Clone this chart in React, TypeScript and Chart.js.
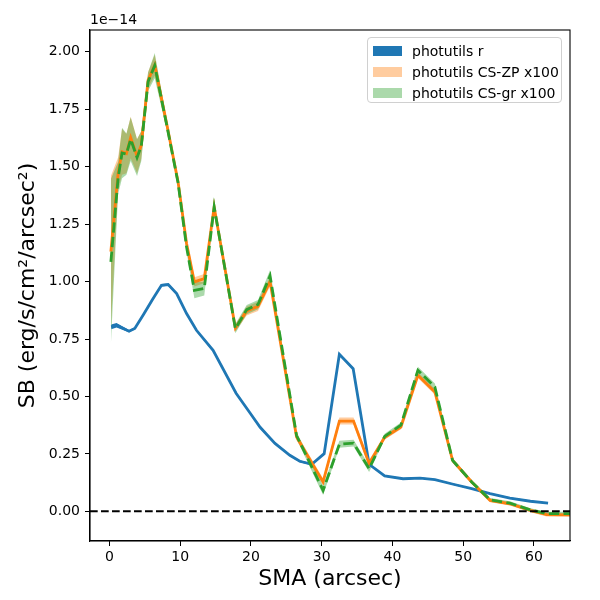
import React, { useEffect, useRef } from 'react';
import Chart from 'chart.js/auto';

// SB values are in units of 1e-14 erg/s/cm^2/arcsec^2
const smaR = [0.25, 1.0, 2.77, 3.58, 4.75, 6.17, 7.35, 8.3, 9.5, 10.9, 12.3, 14.65, 17.9, 19.9, 21.3, 23.4, 25.5, 26.9, 28.6, 30.35, 32.5, 34.45, 36.7, 38.9, 41.5, 43.9, 46.0, 48.6, 51.2, 53.8, 56.6, 59.5, 62.0];
const sbR = [0.803, 0.81, 0.784, 0.796, 0.854, 0.926, 0.984, 0.987, 0.948, 0.861, 0.788, 0.701, 0.514, 0.427, 0.366, 0.296, 0.244, 0.218, 0.205, 0.251, 0.684, 0.621, 0.205, 0.154, 0.142, 0.145, 0.138, 0.118, 0.099, 0.077, 0.058, 0.044, 0.036];
const errR = [0.01, 0.01, 0.005, 0.005, 0.005, 0.005, 0.005, 0.005, 0.005, 0.005, 0.005, 0.005, 0.004, 0.004, 0.004, 0.004, 0.004, 0.004, 0.004, 0.004, 0.004, 0.004, 0.004, 0.003, 0.003, 0.003, 0.003, 0.003, 0.003, 0.003, 0.003, 0.003, 0.003];

const smaCS = [0.2, 1.22, 1.78, 2.4, 3.0, 3.9, 4.5, 5.46, 6.4, 8.2, 9.7, 10.9, 12.0, 13.4, 14.8, 17.8, 19.4, 21.0, 22.7, 26.45, 30.2, 32.5, 34.5, 36.7, 38.9, 41.2, 43.6, 46.0, 48.5, 51.2, 53.8, 56.6, 59.5, 61.8, 65.3];
const sbZP = [1.13, 1.47, 1.565, 1.557, 1.627, 1.546, 1.594, 1.877, 1.942, 1.67, 1.434, 1.166, 0.999, 1.013, 1.325, 0.798, 0.872, 0.892, 1.0, 0.324, 0.128, 0.393, 0.393, 0.208, 0.322, 0.367, 0.592, 0.52, 0.222, 0.128, 0.048, 0.033, 0.004, -0.014, -0.015];
const errZP = [0.33, 0.07, 0.1, 0.085, 0.09, 0.075, 0.06, 0.035, 0.045, 0.02, 0.02, 0.02, 0.02, 0.02, 0.015, 0.015, 0.02, 0.02, 0.02, 0.015, 0.015, 0.015, 0.015, 0.015, 0.01, 0.01, 0.012, 0.012, 0.01, 0.008, 0.008, 0.008, 0.008, 0.008, 0.008];
const sbGR = [1.086, 1.45, 1.56, 1.555, 1.62, 1.54, 1.59, 1.87, 1.94, 1.665, 1.43, 1.15, 0.962, 0.97, 1.325, 0.795, 0.878, 0.9, 1.025, 0.33, 0.091, 0.292, 0.297, 0.186, 0.326, 0.375, 0.614, 0.541, 0.222, 0.128, 0.05, 0.036, 0.006, -0.01, -0.01];
const errGR = [0.36, 0.07, 0.11, 0.09, 0.095, 0.08, 0.065, 0.04, 0.055, 0.02, 0.02, 0.02, 0.035, 0.03, 0.02, 0.02, 0.02, 0.02, 0.025, 0.015, 0.02, 0.015, 0.015, 0.015, 0.012, 0.012, 0.015, 0.015, 0.01, 0.008, 0.008, 0.008, 0.008, 0.008, 0.008];

const xTicks = [0, 10, 20, 30, 40, 50, 60];
const yTicks = [0, 0.25, 0.5, 0.75, 1.0, 1.25, 1.5, 1.75, 2.0];

const labels = ['photutils r', 'photutils CS-ZP x100', 'photutils CS-gr x100'];
const lineColors = ['#1f77b4', '#ff7f0e', '#2ca02c'];
const bandColors = ['rgba(31,119,180,1)', 'rgba(255,127,14,0.4)', 'rgba(44,160,44,0.4)'];

const FONT = "'DejaVu Sans', sans-serif";

const pts = (xs: number[], ys: number[], off: number[] = [], sign = 0) =>
  xs.map((x, i) => ({ x, y: ys[i] + sign * (off[i] || 0) }));

const band = (xs: number[], ys: number[], err: number[], color: string, order: number) => [
  { data: pts(xs, ys, err, 1), borderWidth: 0, pointRadius: 0, fill: false, order },
  { data: pts(xs, ys, err, -1), borderWidth: 0, pointRadius: 0, fill: '-1', backgroundColor: color, order },
];

const line = (xs: number[], ys: number[], color: string, order: number, dash: number[] = []) => ({
  data: pts(xs, ys),
  borderColor: color,
  borderWidth: 2.8,
  borderDash: dash,
  pointRadius: 0,
  fill: false,
  order,
});

const extras = {
  id: 'extras',
  afterDatasetsDraw(chart: any) {
    const { ctx, chartArea, scales } = chart;
    const y0 = scales.y.getPixelForValue(0);
    ctx.save();
    ctx.strokeStyle = '#000';
    ctx.lineWidth = 2;
    ctx.setLineDash([7.7, 3.3]);
    ctx.beginPath();
    ctx.moveTo(chartArea.left, y0);
    ctx.lineTo(chartArea.right, y0);
    ctx.stroke();
    ctx.restore();
  },
  afterDraw(chart: any) {
    const { ctx, chartArea } = chart;
    ctx.save();
    ctx.strokeStyle = '#000';
    ctx.lineWidth = 1.1;
    ctx.strokeRect(chartArea.left, chartArea.top, chartArea.right - chartArea.left, chartArea.bottom - chartArea.top);
    ctx.fillStyle = '#000';
    ctx.font = `14px ${FONT}`;
    ctx.textAlign = 'left';
    ctx.textBaseline = 'bottom';
    ctx.fillText('1e\u221214', chartArea.left, chartArea.top - 3);
    ctx.restore();
  },
};

const App: React.FC = () => {
  const chartRef = useRef<HTMLCanvasElement | null>(null);

  useEffect(() => {
    if (!chartRef.current) return;
    const datasets: any[] = [
      ...band(smaR, sbR, errR, bandColors[0], 9),
      ...band(smaCS, sbZP, errZP, bandColors[1], 8),
      ...band(smaCS, sbGR, errGR, bandColors[2], 7),
      line(smaR, sbR, lineColors[0], 3),
      line(smaCS, sbZP, lineColors[1], 2),
      line(smaCS, sbGR, lineColors[2], 1, [10.3, 4.4]),
    ];

    const myChart = new Chart(chartRef.current, {
      type: 'line',
      data: { datasets },
      plugins: [extras],
      options: {
        animation: false,
        responsive: true,
        maintainAspectRatio: false,
        layout: { padding: { top: 30, right: 30, left: 0, bottom: 0 } },
        plugins: { legend: { display: false }, tooltip: { enabled: false } },
        scales: {
          x: {
            type: 'linear',
            min: -2.75,
            max: 65.1,
            afterBuildTicks: (s: any) => { s.ticks = xTicks.map((value) => ({ value })); },
            afterFit: (s: any) => { s.height = 59; },
            ticks: { color: '#000', font: { family: FONT, size: 14 }, padding: 3, maxRotation: 0 },
            grid: { drawOnChartArea: false, drawTicks: true, tickLength: 5, color: '#000' },
            border: { display: true, color: '#000', width: 1.1 },
            title: { display: true, text: 'SMA (arcsec)', color: '#000', font: { family: FONT, size: 22 }, padding: { top: 0, bottom: 8 } },
          },
          y: {
            type: 'linear',
            min: -0.129,
            max: 2.095,
            afterBuildTicks: (s: any) => { s.ticks = yTicks.map((value) => ({ value })); },
            afterFit: (s: any) => { s.width = 90; },
            ticks: { color: '#000', font: { family: FONT, size: 14 }, padding: 5, callback: (v: any) => Number(v).toFixed(2) },
            grid: { drawOnChartArea: false, drawTicks: true, tickLength: 5, color: '#000' },
            border: { display: true, color: '#000', width: 1.1 },
            title: { display: true, text: 'SB (erg/s/cm\u00b2/arcsec\u00b2)', color: '#000', font: { family: FONT, size: 22 }, padding: { top: 15, bottom: 0 } },
          },
        },
      },
    });

    return () => {
      myChart.destroy();
    };
  }, []);

  return (
    <div style={{ position: 'absolute', left: 0, top: 0, width: 600, height: 600, background: '#fff' }}>
      <canvas ref={chartRef} />
      <div
        style={{
          position: 'absolute', left: 367, top: 37, width: 195, height: 66,
          border: '1px solid #d0d0d0', borderRadius: 4, background: 'rgba(255,255,255,0.8)',
          fontFamily: FONT, fontSize: 14, color: '#000', boxSizing: 'border-box',
        }}
      >
        {labels.map((t, i) => (
          <div key={t} style={{ position: 'absolute', left: 5, top: 5 + i * 21, height: 16, display: 'flex', alignItems: 'center', whiteSpace: 'nowrap' }}>
            <span style={{ display: 'inline-block', width: 29, height: 10, background: bandColors[i], marginRight: 10 }} />
            {t}
          </div>
        ))}
      </div>
    </div>
  );
};

export default App;
